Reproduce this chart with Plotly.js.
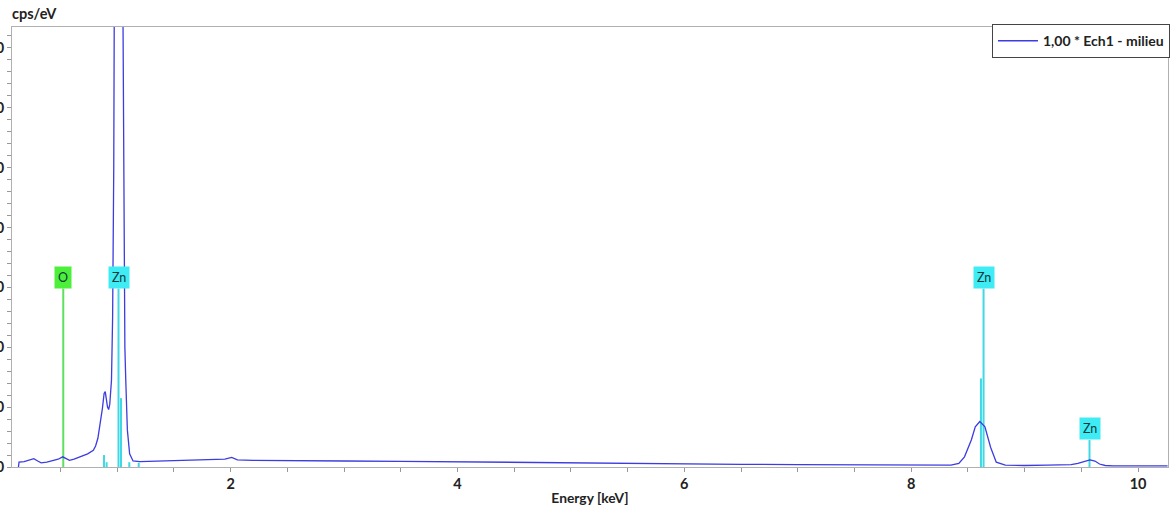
<!DOCTYPE html>
<html>
<head>
<meta charset="utf-8">
<script src="https://cdn.plot.ly/plotly-3.0.1.min.js"></script>
<style>html,body{margin:0;padding:0;background:#fff;}#chart{width:1172px;height:506px;}</style>
</head>
<body>
<div id="chart"></div>
<script>
// Spectrum (energy keV, counts cps/eV)
const energy = [0.13,0.135,0.18,0.22,0.265,0.30,0.33,0.38,0.43,0.48,0.52,0.55,0.58,0.62,0.68,0.74,0.79,0.81,0.83,0.85,0.87,0.885,0.895,0.905,0.915,0.925,0.935,0.95,0.96,0.97,0.98,0.995,1.01,1.025,1.04,1.05,1.06,1.068,1.076,1.09,1.11,1.14,1.2,1.4,1.6,1.8,1.95,2.01,2.06,2.2,2.5,3.0,3.5,4.0,4.5,5.0,5.5,6.0,6.5,7.0,7.5,8.0,8.2,8.35,8.42,8.47,8.53,8.565,8.605,8.65,8.70,8.75,8.83,8.9,9.0,9.2,9.35,9.41,9.47,9.53,9.576,9.62,9.66,9.71,9.78,10.0,10.26];
const counts = [0,0.8,0.9,1.1,1.4,1.0,0.7,0.8,1.0,1.3,1.7,1.4,1.1,1.3,1.7,2.2,2.8,3.5,4.8,7.0,9.8,12.3,12.6,11.3,10.0,9.6,10.5,14.5,25,50,100,220,280,240,140,80,40,20,14.5,6.2,2.2,1.0,0.9,1.0,1.1,1.2,1.3,1.6,1.2,1.1,1.1,1.0,0.95,0.85,0.75,0.65,0.6,0.5,0.45,0.4,0.35,0.3,0.3,0.3,0.6,1.7,4.5,6.7,7.6,6.7,3.3,0.8,0.3,0.25,0.25,0.3,0.35,0.4,0.6,1.0,1.2,1.0,0.5,0.25,0.2,0.2,0.2];

// Element lines (energy keV, marker height)
const lineEnergy = [0.525,0.884,0.907,1.012,1.034,1.107,1.19,8.615,8.638,9.572];
const lineHeight = [29.8,2.0,0.8,29.8,11.5,0.8,0.7,14.8,29.8,4.5];
const lineElement = ['O','Zn','Zn','Zn','Zn','Zn','Zn','Zn','Zn','Zn'];
const lineLabelled = [true,false,false,true,false,false,false,false,true,true];

const yTickVals = [0,10,20,30,40,50,60,70];
const yTickText = ['0','10','20','30','40','50','60','70'];
const xTickVals = [2,4,6,8,10];
const xTickText = ['2','4','6','8','10'];
const seriesName = '1,00 * Ech1 - milieu';

const elemLine = {O:'#5ee05e', Zn:'#3fd8e6'};
const elemBox = {O:'#4cf03a', Zn:'#40ecf4'};

const traces = [];
['O','Zn'].forEach(el => {
  const xs = [], ys = [];
  lineEnergy.forEach((e,i) => {
    if (lineElement[i] === el) { xs.push(e,e,null); ys.push(0,lineHeight[i],null); }
  });
  traces.push({x:xs, y:ys, type:'scatter', mode:'lines', showlegend:false, hoverinfo:'skip',
    line:{color:elemLine[el], width:2}});
});
traces.push({x:energy, y:counts, type:'scatter', mode:'lines', name:seriesName,
  line:{color:'#3c3ce0', width:1.3}});

const FAM = 'Lato, "Open Sans", sans-serif';
const annotations = [];
lineEnergy.forEach((e,i) => {
  if (!lineLabelled[i]) return;
  const el = lineElement[i];
  annotations.push({x:e, y:lineHeight[i], xref:'x', yref:'y', text:el, showarrow:false,
    yanchor:'bottom', xanchor:'center', bgcolor:elemBox[el], borderpad:3,
    font:{family:FAM, size:12.5, color:'#0a3a3a'}});
});

const fnt = {family:FAM, size:14.5, color:'#222', weight:'bold'};

const layout = {
  width:1172, height:506,
  margin:{l:12, r:2, t:27, b:39},
  paper_bgcolor:'#fff', plot_bgcolor:'#fff',
  title:{text:'cps/eV', x:12/1172, xanchor:'left', xref:'container', yref:'container', y:1-14/506, yanchor:'middle',
    font:{family:FAM, size:14.5, color:'#222', weight:'bold'}},
  xaxis:{range:[0.073,10.264], showgrid:false, zeroline:false, showline:true, linecolor:'#b0b0b0', linewidth:1, mirror:true,
    tickmode:'array', tickvals:xTickVals, ticktext:xTickText, ticks:'outside', ticklen:4, tickcolor:'#999',
    minor:{dtick:0.5, ticks:'outside', ticklen:4, tickcolor:'#999'},
    tickfont:fnt, automargin:false,
    title:{text:'Energy [keV]', font:{family:FAM, size:13.8, color:'#222', weight:'bold'}, standoff:4}},
  yaxis:{range:[0,73.5], showgrid:false, zeroline:false, showline:true, linecolor:'#b0b0b0', linewidth:1, mirror:true,
    tickmode:'array', tickvals:yTickVals, ticktext:yTickText, ticks:'outside', ticklen:4, tickcolor:'#999',
    minor:{dtick:2, ticks:'outside', ticklen:4, tickcolor:'#999'},
    tickfont:fnt, automargin:false},
  showlegend:true,
  legend:{x:1.0017, y:1.0065, xanchor:'right', yanchor:'top', bgcolor:'#fff', bordercolor:'#444', borderwidth:1,
    font:{family:FAM, size:14, color:'#222', weight:'bold'}, tracegroupgap:0, itemwidth:40},
  annotations:annotations
};

Plotly.newPlot('chart', traces, layout, {displayModeBar:false, staticPlot:true});
</script>
</body>
</html>
